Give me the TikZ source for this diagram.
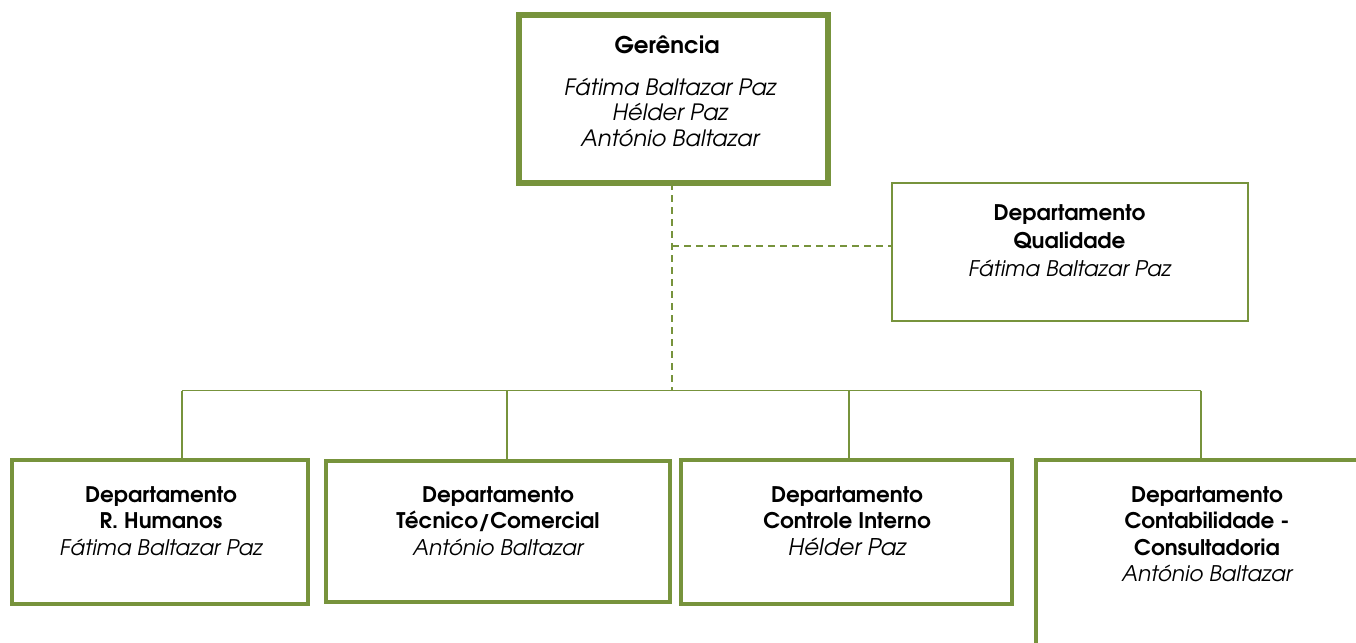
\documentclass[tikz,border=0pt]{standalone}
\usepackage{fontspec}
\setmainfont{texgyreadventor}[Extension=.otf, UprightFont=*-regular, BoldFont=*-bold, ItalicFont=*-italic, BoldItalicFont=*-bolditalic]
\definecolor{olivegreen}{HTML}{77933C}
\tikzset{
  orgbox/.style={draw=olivegreen, fill=white, rectangle, inner sep=0pt, outer sep=0pt},
  heavy/.style={orgbox, line width=6pt},
  medium/.style={orgbox, line width=4pt},
  light/.style={orgbox, line width=2pt},
  conn/.style={draw=olivegreen, line width=1.6pt},
  dconn/.style={draw=olivegreen, line width=2pt, dash pattern=on 7pt off 5pt},
  txt/.style={align=center, anchor=north, inner sep=0pt, font=\fontsize{21.5}{26.5}\selectfont},
}
\begin{document}
\begin{tikzpicture}[x=1pt, y=-1pt]
\useasboundingbox (0,0) rectangle (1356,642);
\clip (0,0) rectangle (1356,642);
% connectors
\coordinate (j0) at (672,390.5);
\coordinate (jq) at (672,246);
\coordinate (j1) at (182,390.5);
\coordinate (j2) at (507,390.5);
\coordinate (j3) at (849,390.5);
\coordinate (j4) at (1201,390.5);
% boxes
\node[heavy, minimum width=309pt, minimum height=167.5pt] (ger) at (673.5,99.25) {};
\node[light, minimum width=356pt, minimum height=137.5pt] (qual) at (1069.5,251.75) {};
\node[medium, minimum width=296pt, minimum height=144pt] (b1) at (160,532) {};
\node[medium, minimum width=344pt, minimum height=140.5pt] (b2) at (498,531.25) {};
\node[medium, minimum width=331pt, minimum height=144pt] (b3) at (846.5,532) {};
\node[medium, minimum width=400pt, minimum height=260pt] (b4) at (1236,590) {};
\draw[dconn] (ger.south -| j0) -- (j0);
\draw[dconn] (jq) -- (jq -| qual.west);
\draw[conn] (j1) -- (j4);
\draw[conn] (j1) -- (j1 |- b1.north);
\draw[conn] (j2) -- (j2 |- b2.north);
\draw[conn] (j3) -- (j3 |- b3.north);
\draw[conn] (j4) -- (j4 |- b4.north);
% texts
\node[txt, font=\fontsize{23}{26}\selectfont] (gert) at (667,36) {\textbf{Gerência}};
\node[txt, font=\fontsize{22.5}{25.5}\selectfont] (gern) at (670,78) {\itshape Fátima Baltazar Paz\\\itshape Hélder Paz\\\itshape António Baltazar};
\node[txt, font=\fontsize{21.5}{28}\selectfont] (qualt) at (1069.5,204) {\textbf{Departamento}\\\textbf{Qualidade}\\\itshape Fátima Baltazar Paz};
\node[txt] (b1t) at (161,486) {\textbf{Departamento}\\\textbf{R. Humanos}\\\itshape Fátima Baltazar Paz};
\node[txt] (b2t) at (498,486) {\textbf{Departamento}\\\textbf{Técnico/Comercial}\\\itshape António Baltazar};
\node[txt] (b3t) at (847,486) {\textbf{Departamento}\\\textbf{Controle Interno}\\{\fontsize{23}{27}\selectfont\itshape Hélder Paz}};
\node[txt] (b4t) at (1207,486) {\textbf{Departamento}\\\textbf{Contabilidade -}\\\textbf{Consultadoria}\\\itshape António Baltazar};
\end{tikzpicture}
\end{document}
